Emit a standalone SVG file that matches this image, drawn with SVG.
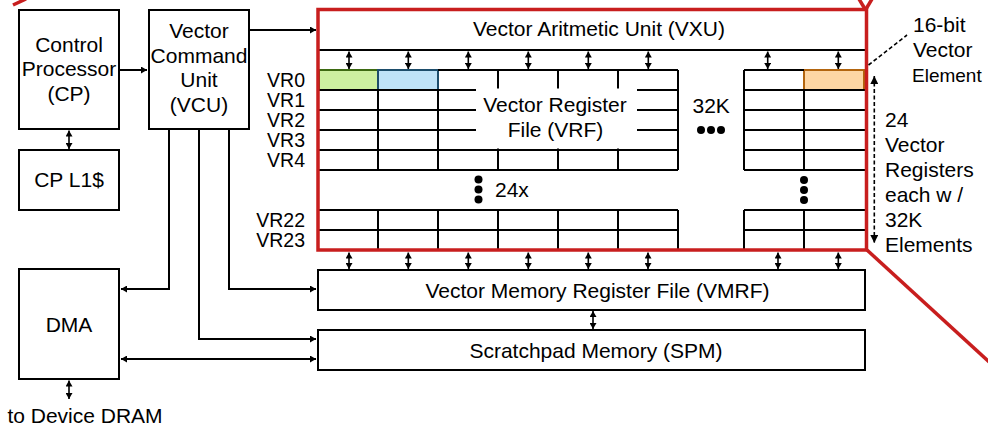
<svg xmlns="http://www.w3.org/2000/svg" width="988" height="427" viewBox="0 0 988 427">
<style>
  text { font-family: "Liberation Sans", Arial, sans-serif; font-size: 21px; fill: #000; }
  .vr { font-size: 19.5px; }
  .box { fill: #fff; stroke: #000; stroke-width: 2; }
  .grid { stroke: #000; stroke-width: 2; fill: none; }
  .red { fill: none; stroke: #c81e1e; stroke-width: 3.5; }
  .con { fill: none; stroke: #000; stroke-width: 2; }
  .arr { fill: none; stroke: #000; stroke-width: 1.6; marker-start: url(#ah); marker-end: url(#ah); }
  .dash { fill: none; stroke: #000; stroke-width: 1.6; stroke-dasharray: 4 2.5; }
  .mid { text-anchor: middle; }
  .end { text-anchor: end; }
</style>
<defs>
  <marker id="ah" viewBox="0 0 6 7" refX="6" refY="3.5" markerWidth="6" markerHeight="7" markerUnits="userSpaceOnUse" orient="auto-start-reverse">
    <path d="M0,0 L6,3.5 L0,7 z" fill="#000"/>
  </marker>
  <marker id="ahb" viewBox="0 0 8 8" refX="8" refY="4" markerWidth="8" markerHeight="8" markerUnits="userSpaceOnUse" orient="auto-start-reverse">
    <path d="M0,0 L8,4 L0,8 z" fill="#000"/>
  </marker>
</defs>
<rect width="988" height="427" fill="#fff"/>

<!-- red callout lines -->
<g id="callout">
  <line x1="13" y1="5" x2="26" y2="-1" class="red"/>
  <line x1="865" y1="9" x2="859" y2="-1" class="red"/>
  <line x1="866" y1="9" x2="872" y2="-1" class="red"/>
  <line x1="867" y1="250" x2="1000" y2="372" class="red"/>
</g>

<g id="cp">
  <rect class="box" x="19" y="10" width="100" height="119"/>
  <text class="mid" x="69" y="51.5">Control</text>
  <text class="mid" x="69" y="76">Processor</text>
  <text class="mid" x="69" y="100.5">(CP)</text>
</g>
<g id="cpl1">
  <rect class="box" x="19" y="150" width="100" height="60"/>
  <text class="mid" x="69" y="186.5">CP L1$</text>
</g>
<g id="vcu">
  <rect class="box" x="149" y="10" width="100" height="119"/>
  <text class="mid" x="199" y="38.3">Vector</text>
  <text class="mid" x="199" y="62.8">Command</text>
  <text class="mid" x="199" y="87.3">Unit</text>
  <text class="mid" x="199" y="111.8">(VCU)</text>
</g>
<g id="dma">
  <rect class="box" x="19" y="269" width="100" height="110"/>
  <text class="mid" x="69" y="331.5">DMA</text>
</g>
<text id="dram" class="mid" x="85" y="423">to Device DRAM</text>

<g id="vxu">
  <line class="grid" x1="318" y1="50" x2="866" y2="50"/>
  <text class="mid" x="599" y="36">Vector Aritmetic Unit (VXU)</text>
</g>

<g id="vrf">
  <!-- colored cells -->
  <rect x="319" y="70" width="59" height="20" fill="#ccf0a0" stroke="#3d6a12" stroke-width="2"/>
  <rect x="378" y="70" width="60" height="20" fill="#bfe3f8" stroke="#1d4d6b" stroke-width="2"/>
  <rect x="804" y="70" width="60" height="20" fill="#fdd6a4" stroke="#b2650f" stroke-width="2"/>
  <!-- left group top rows -->
  <path class="grid" d="M318,90 H678 M318,110 H678 M318,130 H678 M318,150 H678 M318,170 H678 M438,70 H678"/>
  <path class="grid" d="M378,90 V170 M438,90 V170 M498,70 V170 M558,70 V170 M618,70 V170 M678,70 V170"/>
  <!-- left group bottom rows -->
  <path class="grid" d="M318,210 H678 M318,230 H678 M378,210 V250 M438,210 V250 M498,210 V250 M558,210 V250 M618,210 V250 M678,210 V250"/>
  <!-- right group -->
  <path class="grid" d="M744,70 H804 M744,90 H866 M744,110 H866 M744,130 H866 M744,150 H866 M744,170 H866 M744,70 V170 M804,90 V170"/>
  <path class="grid" d="M744,210 H866 M744,230 H866 M744,250 H866 M744,210 V250 M804,210 V250"/>
  <!-- VRF label -->
  <rect x="476" y="88.5" width="161" height="60" fill="#fff"/>
  <text class="mid" x="555" y="111.7">Vector Register</text>
  <text class="mid" x="555.5" y="136.7">File (VRF)</text>
  <!-- 32K dots -->
  <text x="692.5" y="113.3">32K</text>
  <circle cx="701" cy="130" r="4"/>
  <circle cx="711" cy="130" r="4"/>
  <circle cx="721" cy="130" r="4"/>
  <!-- vertical dots -->
  <circle cx="478.5" cy="179.5" r="4"/>
  <circle cx="478.5" cy="189.5" r="4"/>
  <circle cx="478.5" cy="199.5" r="4"/>
  <text x="495" y="196.7">24x</text>
  <circle cx="804" cy="180" r="4"/>
  <circle cx="804" cy="190" r="4"/>
  <circle cx="804" cy="200" r="4"/>
  <!-- red frame -->
  <rect class="red" x="318" y="9.5" width="548.5" height="240.5"/>
</g>

<g id="vrlabels">
  <text class="end vr" x="305" y="86.5">VR0</text>
  <text class="end vr" x="305" y="106.5">VR1</text>
  <text class="end vr" x="305" y="126.5">VR2</text>
  <text class="end vr" x="305" y="146.5">VR3</text>
  <text class="end vr" x="305" y="166.5">VR4</text>
  <text class="end vr" x="305" y="226.5">VR22</text>
  <text class="end vr" x="305" y="246.5">VR23</text>
</g>

<g id="vmrf">
  <rect class="box" x="318" y="270" width="547" height="40"/>
  <text class="mid" x="597.5" y="297.5">Vector Memory Register File (VMRF)</text>
</g>
<g id="spm">
  <rect class="box" x="318" y="330" width="547" height="40"/>
  <text class="mid" x="596" y="357.5">Scratchpad Memory (SPM)</text>
</g>

<g id="annotations">
  <text x="913" y="32">16-bit</text>
  <text x="913" y="57">Vector</text>
  <text x="912" y="82" style="font-size:19px">Element</text>
  <text x="885" y="127">24</text>
  <text x="885" y="152">Vector</text>
  <text x="885" y="177">Registers</text>
  <text x="885" y="202">each w /</text>
  <text x="885" y="227">32K</text>
  <text x="885" y="252">Elements</text>
  <line class="dash" x1="868.5" y1="65" x2="907" y2="35"/>
  <line class="dash" x1="874.3" y1="76" x2="874.3" y2="243" marker-start="url(#ahb)" marker-end="url(#ahb)"/>
</g>

<g id="connectors">
  <path class="con" d="M119,70 H147" marker-end="url(#ah)"/>
  <path class="con" d="M249,30 H316" marker-end="url(#ah)"/>
  <path class="arr" d="M69,130.5 V149"/>
  <path class="con" d="M169,129 V289 H121" marker-end="url(#ah)"/>
  <path class="con" d="M229,129 V289 H316" marker-end="url(#ah)"/>
  <path class="con" d="M199,129 V339 H316" marker-end="url(#ah)"/>
  <path class="con" d="M121,359 H316" marker-start="url(#ah)" marker-end="url(#ah)"/>
  <path class="arr" d="M69,380.5 V399"/>
  <!-- VXU to VRF -->
  <path class="arr" d="M349,51.5 V69"/>
  <path class="arr" d="M408.3,51.5 V69"/>
  <path class="arr" d="M468.3,51.5 V69"/>
  <path class="arr" d="M528.3,51.5 V69"/>
  <path class="arr" d="M588.3,51.5 V69"/>
  <path class="arr" d="M648.3,51.5 V69"/>
  <path class="arr" d="M767.7,51.5 V69"/>
  <path class="arr" d="M838.3,51.5 V69"/>
  <!-- VRF to VMRF -->
  <path class="arr" d="M349,252.5 V269"/>
  <path class="arr" d="M408.3,252.5 V269"/>
  <path class="arr" d="M468.3,252.5 V269"/>
  <path class="arr" d="M528.3,252.5 V269"/>
  <path class="arr" d="M588.3,252.5 V269"/>
  <path class="arr" d="M648,252.5 V269"/>
  <path class="arr" d="M778,252.5 V269"/>
  <path class="arr" d="M838.3,252.5 V269"/>
  <!-- VMRF to SPM -->
  <path class="arr" d="M593,311 V329"/>
</g>
</svg>
